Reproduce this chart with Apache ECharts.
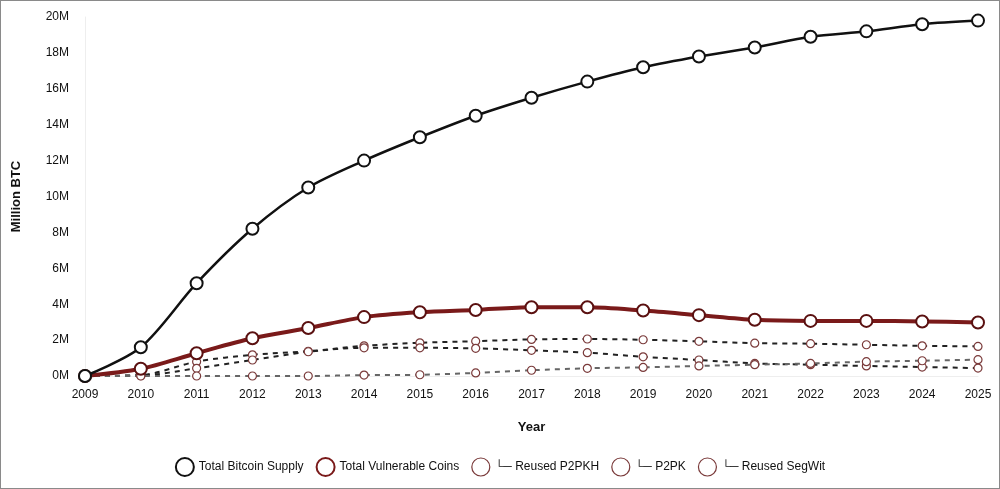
<!DOCTYPE html>
<html><head><meta charset="utf-8">
<script src="https://cdn.jsdelivr.net/npm/echarts@6/dist/echarts.min.js"></script>
<style>
html,body{margin:0;padding:0;background:#fff;}
#c{width:998px;height:487px;border:1px solid #8a8a8a;}
</style></head>
<body><div id="c"></div>
<script>
const years = ['2009','2010','2011','2012','2013','2014','2015','2016','2017','2018','2019','2020','2021','2022','2023','2024','2025'];
const totalSupply = [0,1.6,5.17,8.2,10.5,12.0,13.3,14.5,15.5,16.4,17.2,17.8,18.3,18.9,19.2,19.6,19.8];
const totalVulnerable = [0,0.4,1.27,2.1,2.67,3.28,3.55,3.68,3.83,3.83,3.65,3.39,3.13,3.07,3.07,3.04,2.98];
const reusedP2PKH = [0,0.05,0.8,1.18,1.38,1.68,1.85,1.94,2.04,2.06,2.02,1.93,1.83,1.8,1.74,1.68,1.65];
const p2pk = [0,0.02,0.43,0.89,1.35,1.57,1.57,1.54,1.43,1.3,1.07,0.89,0.7,0.63,0.56,0.5,0.44];
const reusedSegWit = [0,0,0,0,0,0.05,0.07,0.17,0.32,0.43,0.48,0.56,0.63,0.7,0.8,0.85,0.91];
const yTicks = [0,2,4,6,8,10,12,14,16,18,20];
const seriesNames = ['Total Bitcoin Supply','Total Vulnerable Coins','└─ Reused P2PKH','└─ P2PK','└─ Reused SegWit'];

const chart = echarts.init(document.getElementById('c'));
const font = 'Helvetica, Arial, "Liberation Sans", sans-serif';
function dashed(name, data, lineColor){
  return {name, type:'line', data, smooth:0.3, symbol:'circle', symbolSize:8,
    lineStyle:{type:[5,5], width:2, color:lineColor},
    itemStyle:{color:'#fff', borderColor:'#7a3a3a', borderWidth:1.2},
    z:2};
}
chart.setOption({
  animation:false,
  textStyle:{fontFamily:font},
  grid:{left:84, right:21, top:16, bottom:112, containLabel:false},
  xAxis:{type:'category', data:years, boundaryGap:false,
    name:'Year', nameLocation:'middle', nameGap:45,
    nameTextStyle:{fontWeight:'bold', fontSize:13, color:'#111'},
    axisLine:{show:true, lineStyle:{color:'#eee'}},
    axisTick:{show:false},
    axisLabel:{color:'#111', fontSize:12, margin:13}},
  yAxis:{type:'value', min:0, max:20, interval:2,
    name:'Million BTC', nameLocation:'middle', nameGap:62,
    nameTextStyle:{fontWeight:'bold', fontSize:13, color:'#111'},
    axisLine:{show:true, lineStyle:{color:'#eee'}},
    axisTick:{show:false}, splitLine:{show:false},
    axisLabel:{color:'#111', fontSize:12, margin:16, formatter:v=>v+'M'}},
  legend:{bottom:6, left:'center', itemWidth:18, itemHeight:18, itemGap:12,
    icon:'circle', textStyle:{fontSize:12, color:'#111'},
    data:seriesNames.map((n,i)=>({name:n, icon:'circle',
      itemStyle:{color:'#fff', borderColor: i===0?'#111':(i===1?'#7a1a1a':'#7a3a3a'), borderWidth: i<2?2:1.2}}))},
  series:[
    {name:seriesNames[0], type:'line', data:totalSupply, smooth:0.3, symbol:'circle', symbolSize:12,
      lineStyle:{width:2.5, color:'#111'}, itemStyle:{color:'#fff', borderColor:'#111', borderWidth:2}, z:4},
    {name:seriesNames[1], type:'line', data:totalVulnerable, smooth:0.3, symbol:'circle', symbolSize:12,
      lineStyle:{width:4, color:'#7a1a1a'}, itemStyle:{color:'#fff', borderColor:'#5a1010', borderWidth:2}, z:3},
    dashed(seriesNames[2], reusedP2PKH, '#222'),
    dashed(seriesNames[3], p2pk, '#222'),
    dashed(seriesNames[4], reusedSegWit, '#666')
  ]
});
</script></body></html>
